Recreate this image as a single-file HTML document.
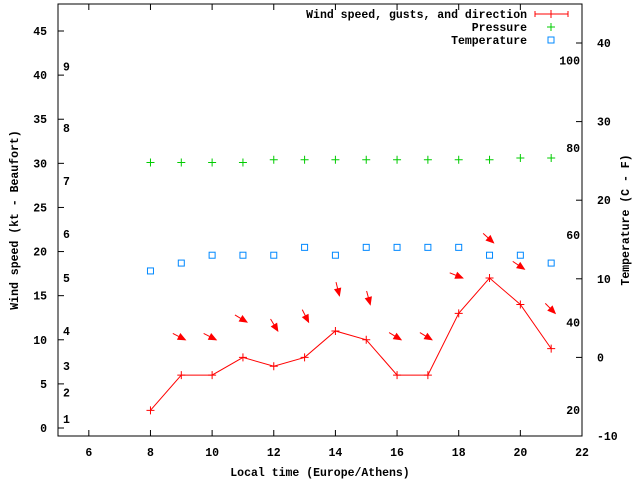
<!DOCTYPE html>
<html><head><meta charset="utf-8"><style>
body{margin:0;background:#fff}
svg text{font-family:"Liberation Mono",monospace;font-weight:bold;font-size:11.5px;fill:#000}
</style></head><body>
<svg id="chart" width="640" height="480" xmlns="http://www.w3.org/2000/svg"></svg>
<script>
const hours=[8,9,10,11,12,13,14,15,16,17,18,19,20,21];
const windSpeed=[2,6,6,8,7,8,11,10,6,6,13,17,14,9];
const gustHours=[9,10,11,12,13,14,15,16,17,18,19,20,21];
const gusts=[10,10,12,11,12,15,14,10,10,17,21,18,13];
const arrowAngle=[27,27,31,59,63,76,75,31,31,22,42,34,45];
const pressure=[30.1,30.1,30.1,30.1,30.4,30.4,30.4,30.4,30.4,30.4,30.4,30.4,30.6,30.6];
const temperature=[11,12,13,13,13,14,13,14,14,14,14,13,13,12];
const xTicks=[6,8,10,12,14,16,18,20,22];
const yTicks=[0,5,10,15,20,25,30,35,40,45];
const tTicks=[-10,0,10,20,30,40];
const fLabels=[20,40,60,80,100];
const beaufortKt=[1,4,7,11,17,22,28,34,41];
const beaufortLabels=[1,2,3,4,5,6,7,8,9];

const L=58,R=582,T=4,B=436;
const X=v=>L+(v-5)/17*(R-L);
const Y=v=>428-v*8.822;
const TY=v=>357.4-v*7.86;
const svg=document.getElementById('chart');
const NS='http://www.w3.org/2000/svg';
function mk(tag,at,txt){const e=document.createElementNS(NS,tag);for(const k in at)e.setAttribute(k,at[k]);if(txt!==undefined)e.textContent=txt;svg.appendChild(e);return e;}

let e=mk('rect',{x:L,y:T,width:R-L,height:B-T,fill:'none',stroke:'#000','stroke-width':1});



xTicks.forEach(v=>{
 const x=X(v);
 e=mk('path',{d:`M${x},${B}v-6M${x},${T}v6`,stroke:'#000'});
 
 
 e=mk('text',{x:x,y:B+20,'text-anchor':'middle'},v);
 
 
});
yTicks.forEach(v=>{
 const y=Y(v);
 e=mk('path',{d:`M${L},${y}h6`,stroke:'#000'});
 
 
 e=mk('text',{x:L-11,y:y+4,'text-anchor':'end'},v);
 
 
});
tTicks.forEach(v=>{
 const y=TY(v);
 e=mk('path',{d:`M${R},${y}h-6`,stroke:'#000'});
 
 
 e=mk('text',{x:R+15,y:y+4},v);
 
 
});
fLabels.forEach(f=>{
 e=mk('text',{x:R-2,y:TY((f-32)*5/9)+4,'text-anchor':'end'},f);
 
 
});
beaufortKt.forEach((k,i)=>{
 e=mk('text',{x:63,y:Y(k)+4},beaufortLabels[i]);
 
 
});

e=mk('text',{x:320,y:476,'text-anchor':'middle'},'Local time (Europe/Athens)');


e=mk('text',{x:0,y:0,'text-anchor':'middle',transform:'translate(18,220) rotate(-90)'},'Wind speed (kt - Beaufort)');


e=mk('text',{x:0,y:0,'text-anchor':'middle',transform:'translate(629,220) rotate(-90)'},'Temperature (C - F)');



// wind line
e=mk('polyline',{points:hours.map((h,i)=>X(h)+','+Y(windSpeed[i])).join(' '),fill:'none',stroke:'#f00'});


function plus(x,y,c,name){e=mk('path',{d:`M${x-4},${y}h8M${x},${y-4}v8`,stroke:c});}
hours.forEach((h,i)=>plus(X(h),Y(windSpeed[i]),'#f00','wind-point'));
hours.forEach((h,i)=>plus(X(h),Y(pressure[i]),'#0c0','pressure-point'));
hours.forEach((h,i)=>{
 e=mk('rect',{x:X(h)-3,y:TY(temperature[i])-3,width:6,height:6,fill:'none',stroke:'#08f'});
 
 
});
gustHours.forEach((h,i)=>{
 const x=X(h)+4,y=Y(gusts[i]);
 const a=arrowAngle[i]*Math.PI/180,ca=Math.cos(a),sa=Math.sin(a);
 const x0=x-14*ca,y0=y-14*sa;
 const hx1=x-7*ca+3*sa,hy1=y-7*sa-3*ca,hx2=x-7*ca-3*sa,hy2=y-7*sa+3*ca;
 const g=document.createElementNS(NS,'g');svg.appendChild(g);
 
 
 g.innerHTML=`<line x1="${x0}" y1="${y0}" x2="${x}" y2="${y}" stroke="#f00"/><polygon points="${x},${y} ${hx1},${hy1} ${hx2},${hy2}" fill="#f00" stroke="#f00"/>`;
});

// legend
const leg=[['Wind speed, gusts, and direction',14],['Pressure',27],['Temperature',40]];
leg.forEach(([t,y])=>{e=mk('text',{x:527,y:y+4,'text-anchor':'end'},t);});
e=mk('path',{d:'M535,14h33M535,11v6M568,11v6',stroke:'#f00'});


plus(551,14,'#f00','legend-wind-marker');
plus(551,27,'#0c0','legend-pressure-marker');
e=mk('rect',{x:548,y:37,width:6,height:6,fill:'none',stroke:'#08f'});


</script>
</body></html>
